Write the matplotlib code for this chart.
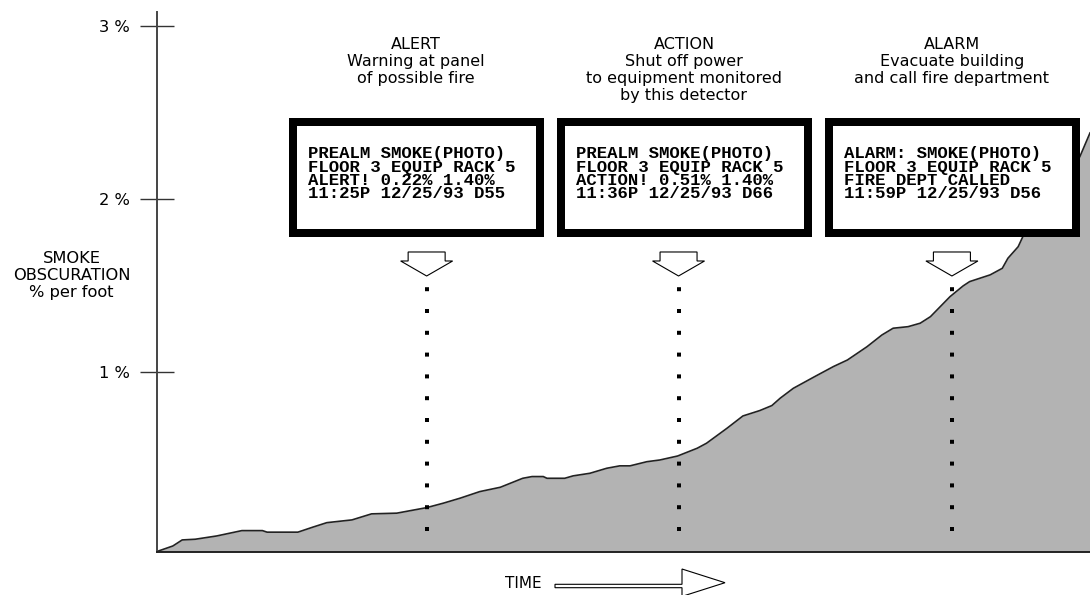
import numpy as np
import matplotlib.pyplot as plt
from matplotlib.patches import Polygon, Rectangle
from matplotlib.transforms import ScaledTranslation

# time (arbitrary units, 0-100) and smoke obscuration (% per foot)
t = [0.0, 1.7, 2.7, 4.1, 6.4, 9.1, 11.3, 11.8, 15.1, 16.7, 18.2, 20.9, 23.0,
     25.7, 28.9, 30.7, 32.5, 34.6, 36.8, 39.2, 40.2, 41.4, 41.8, 43.7, 44.6,
     46.4, 48.2, 49.6, 50.7, 52.5, 53.9, 55.8, 57.9, 58.9, 61.1, 62.8, 64.6,
     65.9, 66.8, 68.2, 70.5, 72.5, 74.0, 76.1, 77.7, 78.9, 80.5, 81.8, 82.9,
     85.0, 86.4, 87.1, 89.3, 90.6, 91.2, 92.3, 92.8, 95.7, 98.9, 100.0]
obsc = [-0.041, -0.009, 0.026, 0.030, 0.049, 0.080, 0.080, 0.071, 0.071, 0.100,
        0.126, 0.142, 0.177, 0.181, 0.213, 0.239, 0.268, 0.306, 0.331, 0.383,
        0.393, 0.393, 0.383, 0.383, 0.397, 0.412, 0.441, 0.455, 0.455, 0.479,
        0.489, 0.512, 0.557, 0.586, 0.673, 0.744, 0.775, 0.804, 0.847, 0.904,
        0.972, 1.030, 1.068, 1.145, 1.213, 1.252, 1.261, 1.281, 1.319, 1.435,
        1.497, 1.522, 1.561, 1.599, 1.657, 1.724, 1.782, 2.001, 2.244, 2.383]

events = [28.9, 55.9, 85.2]
yticks = [1, 2, 3]
ytick_labels = ['1 %', '2 %', '3 %']

headers = [
    ['ALERT', 'Warning at panel', 'of possible fire'],
    ['ACTION', 'Shut off power', 'to equipment monitored', 'by this detector'],
    ['ALARM', 'Evacuate building', 'and call fire department'],
]
screens = [
    ['PREALM SMOKE(PHOTO)', 'FLOOR 3 EQUIP RACK 5', 'ALERT! 0.22% 1.40%', '11:25P 12/25/93 D55'],
    ['PREALM SMOKE(PHOTO)', 'FLOOR 3 EQUIP RACK 5', 'ACTION! 0.51% 1.40%', '11:36P 12/25/93 D66'],
    ['ALARM: SMOKE(PHOTO)', 'FLOOR 3 EQUIP RACK 5', 'FIRE DEPT CALLED', '11:59P 12/25/93 D56'],
]

plt.rcParams['font.family'] = ['DejaVu Sans']

W, H = 1090, 595
fig = plt.figure(figsize=(W / 100, H / 100), dpi=100)
ax = fig.add_axes([157 / W, (H - 551.5) / H, 933 / W, 539.8 / H])
ax.set_xlim(0, 100)
ax.set_ylim(-0.041, 3.085)

ax.fill_between(t, obsc, -0.041, color='#b3b3b3', lw=0, zorder=1)
ax.plot(t, obsc, color='#222222', lw=1.2, zorder=2)

for s in ['top', 'right']:
    ax.spines[s].set_visible(False)
ax.spines['left'].set_color('#444444')
ax.spines['left'].set_linewidth(1.4)
ax.spines['bottom'].set_color('#222222')
ax.spines['bottom'].set_linewidth(1.4)
ax.set_xticks([])
ax.set_yticks(yticks, ytick_labels)
ax.tick_params(axis='y', direction='inout', length=23.8, width=1.0,
               color='#333333', pad=7.7, labelsize=11.7)

# dotted drop lines and hollow arrows under each panel
arrow_shape = np.array([[0, 0], [26, 15], [18.5, 15], [18.5, 24],
                        [-18.5, 24], [-18.5, 15], [-26, 15]]) / 100.0
for ev in events:
    ax.plot([ev, ev], [0.078, 1.489], color='black', lw=2.88,
            ls=(0, (1, 4.45)), dash_capstyle='butt', zorder=3)
    tr = fig.dpi_scale_trans + ScaledTranslation(ev, 0.5104, ax.get_xaxis_transform())
    ax.add_patch(Polygon(arrow_shape, closed=True, facecolor='white',
                         edgecolor='black', lw=0.8, transform=tr, zorder=4,
                         clip_on=False))

def px(x, y):
    return (x / 100.0, (H - y) / 100.0)

# panel boxes with screen text
box_left = [289, 557, 825]
for i in range(3):
    x0 = box_left[i]
    rect = Rectangle(px(x0 + 4, 233), 2.47, 1.11, transform=fig.dpi_scale_trans,
                     facecolor='white', edgecolor='black', lw=5.76,
                     joinstyle='miter', zorder=5)
    fig.add_artist(rect)
    for j, line in enumerate(screens[i]):
        fig.text(*px(x0 + 19.5, 158.3 + j * 13.33), line, transform=fig.dpi_scale_trans,
                 family='Liberation Mono', weight='bold', fontsize=12.5,
                 ha='left', va='baseline', zorder=6)
    cx = x0 + 127
    for j, line in enumerate(headers[i]):
        fig.text(*px(cx, 49 + j * 17), line, transform=fig.dpi_scale_trans,
                 fontsize=11.5, ha='center', va='baseline')

# y axis title
fig.text(*px(71.7, 275.5), 'SMOKE\nOBSCURATION\n% per foot', transform=fig.dpi_scale_trans,
         fontsize=11.7, ha='center', va='center', linespacing=1.2)

# time arrow
fig.text(*px(505, 583), 'TIME', transform=fig.dpi_scale_trans, fontsize=11,
         ha='left', va='center')
time_arrow = [px(555, 584.3), px(682, 584.3), px(682, 569), px(725, 582.7),
              px(682, 596.4), px(682, 587.7), px(555, 587.7)]
fig.add_artist(Polygon(time_arrow, closed=True, facecolor='white', edgecolor='black',
                       lw=0.8, transform=fig.dpi_scale_trans))

fig.savefig('out.png', dpi=100)
